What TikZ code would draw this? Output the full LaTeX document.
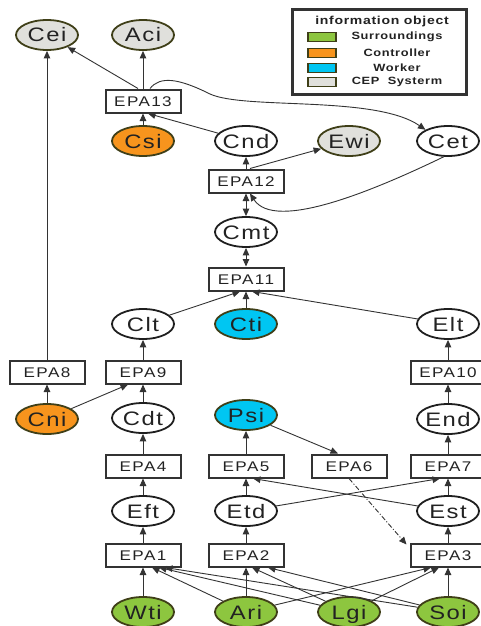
\documentclass[tikz,border=0pt]{standalone}
\usepackage{fontspec}
\setmainfont{Liberation Sans}
\newfontfamily\ellfont[LetterSpace=8,FakeStretch=1.22]{Liberation Sans}
\newfontfamily\boxfont[LetterSpace=10,FakeStretch=1.22]{Liberation Sans}
\newfontfamily\legfont[LetterSpace=6,FakeStretch=1.22]{Liberation Sans}
\usetikzlibrary{arrows.meta,shapes.geometric}
\definecolor{cgreen}{HTML}{8DC63F}
\definecolor{corange}{HTML}{F7941D}
\definecolor{ccyan}{HTML}{00C6F2}
\definecolor{cgray}{HTML}{E0E0DC}
\definecolor{colive}{HTML}{3F3F18}
\definecolor{linec}{HTML}{333333}
\definecolor{txtc}{HTML}{222222}
\tikzset{
  ell/.style={ellipse, line width=1.8pt, minimum width=62pt, minimum height=30pt, inner sep=0pt,
    text height=14pt, text depth=0pt, font=\ellfont\fontsize{19.5}{19.5}\selectfont, text=txtc},
  ellw/.style={ell, fill=white, draw=black!88},
  ellg/.style={ell, fill=cgreen, draw=colive},
  ello/.style={ell, fill=corange, draw=colive},
  ellc/.style={ell, fill=ccyan, draw=colive},
  ellgr/.style={ell, fill=cgray, draw=colive},
  epa/.style={rectangle, draw=linec, line width=2pt, minimum width=75pt, minimum height=23pt, inner sep=0pt,
    fill=white, text height=10pt, text depth=0pt, font=\boxfont\fontsize{14}{14}\selectfont, text=txtc},
  arr/.style={draw=linec, line width=0.9pt, -{Triangle[length=7.5pt,width=6.5pt]}},
  darr/.style={draw=linec, line width=0.9pt, {Triangle[length=7.5pt,width=6.5pt]}-{Triangle[length=7.5pt,width=6.5pt]}},
  swatch/.style={rectangle, draw=colive, line width=1.6pt, minimum width=28pt, minimum height=9pt, inner sep=0pt},
  legtext/.style={font=\legfont\bfseries\fontsize{10.5}{10.5}\selectfont, text=txtc, inner sep=0pt},
}
\newcommand{\zt}[1]{\makebox[0pt]{#1}}
\begin{document}
\begin{tikzpicture}[x=1pt,y=-1pt]
\useasboundingbox (0,0) rectangle (480,626);
\fill[white] (0,0) rectangle (480,626);
% legend
\node[draw=linec, line width=3pt, minimum width=174pt, minimum height=84pt, inner sep=0pt] (legend) at (379,52) {};
\node[legtext, font=\legfont\bfseries\fontsize{11.5}{11.5}\selectfont] (legtitle) at (382,22) {information object};
\node[swatch, fill=cgreen] (sw1) at (322,37) {};
\node[swatch, fill=corange] (sw2) at (322,53) {};
\node[swatch, fill=ccyan] (sw3) at (322,68) {};
\node[swatch, fill=cgray] (sw4) at (322,82) {};
\node[legtext] (lt1) at (397,37) {Surroundings};
\node[legtext] (lt2) at (397,53) {Controller};
\node[legtext] (lt3) at (397,68) {Worker};
\node[legtext] (lt4) at (397,82) {CEP\ \ Systerm};
% nodes
\node[ellgr] (Cei) at (47,35) {\zt{Cei}};
\node[ellgr] (Aci) at (143,35) {\zt{Aci}};
\node[epa] (EPA13) at (143,101) {EPA13};
\node[ello] (Csi) at (143,141) {\zt{Csi}};
\node[ellw] (Cnd) at (246,141) {\zt{Cnd}};
\node[ellgr] (Ewi) at (349,141) {\zt{Ewi}};
\node[ellw] (Cet) at (448,141) {\zt{Cet}};
\node[epa] (EPA12) at (246,181) {EPA12};
\node[ellw] (Cmt) at (246,232) {\zt{Cmt}};
\node[epa] (EPA11) at (246,279) {EPA11};
\node[ellw] (Clt) at (143,324) {\zt{Clt}};
\node[ellc] (Cti) at (246,324) {\zt{Cti}};
\node[ellw] (Elt) at (448,324) {\zt{Elt}};
\node[epa] (EPA8) at (47,372) {EPA8};
\node[epa] (EPA9) at (143,372) {EPA9};
\node[epa] (EPA10) at (448,372) {EPA10};
\node[ello] (Cni) at (47,419) {\zt{Cni}};
\node[ellw] (Cdt) at (143,418) {\zt{Cdt}};
\node[ellc] (Psi) at (246,415) {\zt{Psi}};
\node[ellw] (End) at (448,419) {\zt{End}};
\node[epa] (EPA4) at (143,466) {EPA4};
\node[epa] (EPA5) at (246,466) {EPA5};
\node[epa] (EPA6) at (349,466) {EPA6};
\node[epa] (EPA7) at (448,466) {EPA7};
\node[ellw] (Eft) at (143,511) {\zt{Eft}};
\node[ellw] (Etd) at (246,511) {\zt{Etd}};
\node[ellw] (Est) at (448,511) {\zt{Est}};
\node[epa] (EPA1) at (143,555) {EPA1};
\node[epa] (EPA2) at (246,555) {EPA2};
\node[epa] (EPA3) at (448,555) {EPA3};
\node[ellg] (Wti) at (143,612) {\zt{Wti}};
\node[ellg] (Ari) at (246,612) {\zt{Ari}};
\node[ellg] (Lgi) at (349,612) {\zt{Lgi}};
\node[ellg] (Soi) at (448,612) {\zt{Soi}};
% edges bottom
\draw[arr] (Wti) -- (EPA1);
\draw[arr] (Ari) -- ([xshift=9pt]EPA1.south);
\draw[arr] (Lgi) -- ([xshift=16pt]EPA1.south);
\draw[arr] (Soi) -- ([xshift=22pt]EPA1.south);
\draw[arr] (Ari) -- (EPA2);
\draw[arr] (Lgi) -- ([xshift=6pt]EPA2.south);
\draw[arr] (Soi) -- ([xshift=22pt]EPA2.south);
\draw[arr] (Ari) -- ([xshift=-17pt]EPA3.south);
\draw[arr] (Lgi) -- ([xshift=-9pt]EPA3.south);
\draw[arr] (Soi) -- (EPA3);
\draw[arr] (EPA1) -- (Eft);
\draw[arr] (EPA2) -- (Etd);
\draw[arr] (EPA3) -- (Est);
\draw[arr] (Eft) -- (EPA4);
\draw[arr] (Etd) -- (EPA5);
\draw[arr] (Est) -- (EPA7);
\draw[arr] (Etd) -- ([xshift=-8pt]EPA7.south);
\draw[arr] (Est) -- ([xshift=7pt]EPA5.south);
\draw[arr, dash pattern=on 5pt off 2pt on 1pt off 2pt] (EPA6.south) -- ([xshift=-3pt,yshift=-2pt]EPA3.north west);
\draw[arr] (EPA4) -- (Cdt);
\draw[arr] (EPA5) -- (Psi);
\draw[arr] (EPA7) -- (End);
\draw[arr] (Psi) -- ([xshift=-11pt]EPA6.north);
\draw[arr] (Cni) -- (EPA8);
\draw[arr] (Cni) -- ([xshift=-15pt]EPA9.south);
\draw[arr] (Cdt) -- (EPA9);
\draw[arr] (End) -- (EPA10);
\draw[arr] (EPA9) -- (Clt);
\draw[arr] (EPA10) -- (Elt);
\draw[arr] (EPA8) -- (Cei);
\draw[arr] (Clt) -- ([xshift=-6pt]EPA11.south);
\draw[arr] (Cti) -- (EPA11);
\draw[arr] (Elt) -- ([xshift=6pt]EPA11.south);
\draw[darr] (EPA11) -- (Cmt);
\draw[darr] (Cmt) -- (EPA12);
\draw[arr] (EPA12) -- (Cnd);
\draw[arr] ([xshift=4pt]EPA12.north) -- (Ewi);
\draw[arr] (Cet.255) .. controls (375,190) and (275,232) .. ([xshift=4pt]EPA12.south);
\draw[arr] (Cnd) -- ([xshift=5pt]EPA13.south);
\draw[arr] (Csi) -- (EPA13);
\draw[arr] (EPA13) -- (Aci);
\draw[arr] ([xshift=-5pt]EPA13.north) -- (Cei);
\draw[arr] ([xshift=7pt]EPA13.north) .. controls (160,76) and (178,78) .. (210,94) .. controls (245,110) and (375,95) .. (Cet.north west);
\end{tikzpicture}
\end{document}
